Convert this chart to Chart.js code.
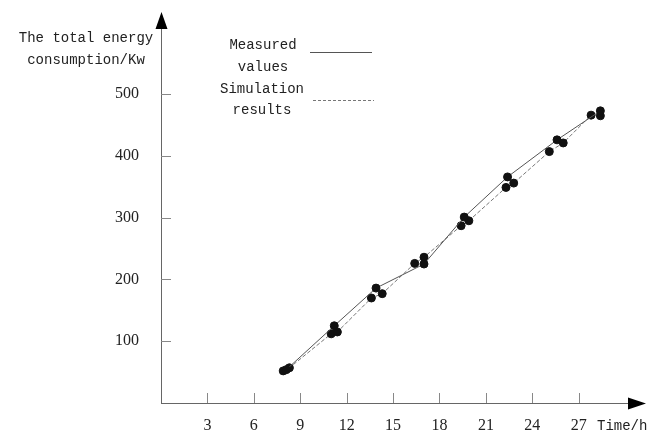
<!DOCTYPE html>
<html>
<head>
<meta charset="utf-8">
<script src="https://cdn.jsdelivr.net/npm/chart.js@4.4.1/dist/chart.umd.min.js"></script>
<style>
  html, body { margin: 0; padding: 0; background: #fff; }
  #wrap { width: 660px; height: 432px; position: relative; }
</style>
</head>
<body>
<div id="wrap"><canvas id="energyChart" width="660" height="432"></canvas></div>
<script>
'use strict';

// data
const measuredTime = [8.1, 11.2, 13.9, 17.0, 19.6, 22.4, 25.6, 28.4];
const measuredEnergy = [54, 125, 186, 225, 301, 366, 426, 473];

const simTime = [7.9, 8.3, 11.0, 11.4, 13.6, 14.3, 16.4, 17.0, 19.4, 19.9, 22.3, 22.8, 25.1, 26.0, 27.8, 28.4];
const simEnergy = [52, 57, 112, 115, 170, 177, 226, 236, 287, 295, 349, 356, 407, 421, 466, 465];

const xTicks = [3, 6, 9, 12, 15, 18, 21, 24, 27];
const yTicks = [100, 200, 300, 400, 500];

const toPoints = (xs, ys) => xs.map((x, i) => ({ x: x, y: ys[i] }));

const monoFont = '14px "Liberation Mono", "DejaVu Sans Mono", monospace';
const serifFont = '16px "Liberation Serif", "DejaVu Serif", serif';

// axes with arrows, inward ticks, labels and the legend block
const axesPlugin = {
  id: 'axesPlugin',
  afterDraw(chart) {
    const ctx = chart.ctx;
    const xs = chart.scales.x;
    const ys = chart.scales.y;
    const x0 = xs.getPixelForValue(0);
    const y0 = ys.getPixelForValue(0);
    const xEnd = chart.chartArea.right;
    const yTop = chart.chartArea.top;

    ctx.save();
    ctx.strokeStyle = '#666';
    ctx.lineWidth = 1;
    ctx.beginPath();
    ctx.moveTo(x0 + 0.5, y0);
    ctx.lineTo(x0 + 0.5, yTop + 10);
    ctx.moveTo(x0, y0 + 0.5);
    ctx.lineTo(xEnd - 10, y0 + 0.5);
    ctx.stroke();

    // arrow heads
    ctx.fillStyle = '#000';
    ctx.beginPath();
    ctx.moveTo(x0 + 0.5, yTop);
    ctx.lineTo(x0 - 5.5, yTop + 17);
    ctx.lineTo(x0 + 6.5, yTop + 17);
    ctx.closePath();
    ctx.fill();
    ctx.beginPath();
    ctx.moveTo(xEnd, y0 + 0.5);
    ctx.lineTo(xEnd - 18, y0 - 5.5);
    ctx.lineTo(xEnd - 18, y0 + 6.5);
    ctx.closePath();
    ctx.fill();

    // ticks
    ctx.strokeStyle = '#888';
    ctx.beginPath();
    xTicks.forEach(t => {
      const px = Math.round(xs.getPixelForValue(t)) + 0.5;
      ctx.moveTo(px, y0);
      ctx.lineTo(px, y0 - 10);
    });
    yTicks.forEach(t => {
      const py = Math.round(ys.getPixelForValue(t)) + 0.5;
      ctx.moveTo(x0, py);
      ctx.lineTo(x0 + 10, py);
    });
    ctx.stroke();

    // tick labels
    ctx.fillStyle = '#222';
    ctx.font = serifFont;
    ctx.textAlign = 'center';
    ctx.textBaseline = 'middle';
    xTicks.forEach(t => ctx.fillText(String(t), xs.getPixelForValue(t), y0 + 23));
    ctx.textAlign = 'right';
    yTicks.forEach(t => ctx.fillText(String(t), x0 - 22, ys.getPixelForValue(t)));

    // axis titles
    ctx.font = monoFont;
    ctx.textAlign = 'left';
    ctx.fillText('Time/h', 597, y0 + 23);
    ctx.textAlign = 'center';
    ctx.fillText('The total energy', 86, 38);
    ctx.fillText('consumption/Kw', 86, 60);

    // legend
    ctx.fillText('Measured', 263, 45);
    ctx.fillText('values', 263, 67);
    ctx.fillText('Simulation', 262, 89);
    ctx.fillText('results', 262, 110);
    ctx.strokeStyle = '#555';
    ctx.beginPath();
    ctx.moveTo(310, 52.5);
    ctx.lineTo(372, 52.5);
    ctx.stroke();
    ctx.strokeStyle = '#777';
    ctx.setLineDash([3, 2]);
    ctx.beginPath();
    ctx.moveTo(313, 100.5);
    ctx.lineTo(374, 100.5);
    ctx.stroke();
    ctx.restore();
  }
};

const ctx = document.getElementById('energyChart').getContext('2d');
new Chart(ctx, {
  type: 'line',
  data: {
    datasets: [
      {
        label: 'Measured values',
        data: toPoints(measuredTime, measuredEnergy),
        borderColor: '#555',
        borderWidth: 1,
        pointRadius: 4,
        pointBackgroundColor: '#111',
        pointBorderColor: '#111',
        tension: 0
      },
      {
        label: 'Simulation results',
        data: toPoints(simTime, simEnergy),
        borderColor: '#777',
        borderWidth: 1,
        borderDash: [4, 2],
        pointRadius: 4,
        pointBackgroundColor: '#111',
        pointBorderColor: '#111',
        tension: 0
      }
    ]
  },
  options: {
    responsive: false,
    animation: false,
    layout: { padding: { left: 161, right: 14, top: 12, bottom: 29 } },
    plugins: {
      legend: { display: false },
      tooltip: { enabled: false }
    },
    scales: {
      x: { type: 'linear', display: false, min: 0, max: 31.35 },
      y: { type: 'linear', display: false, min: 0, max: 633 }
    }
  },
  plugins: [axesPlugin]
});
</script>
</body>
</html>
